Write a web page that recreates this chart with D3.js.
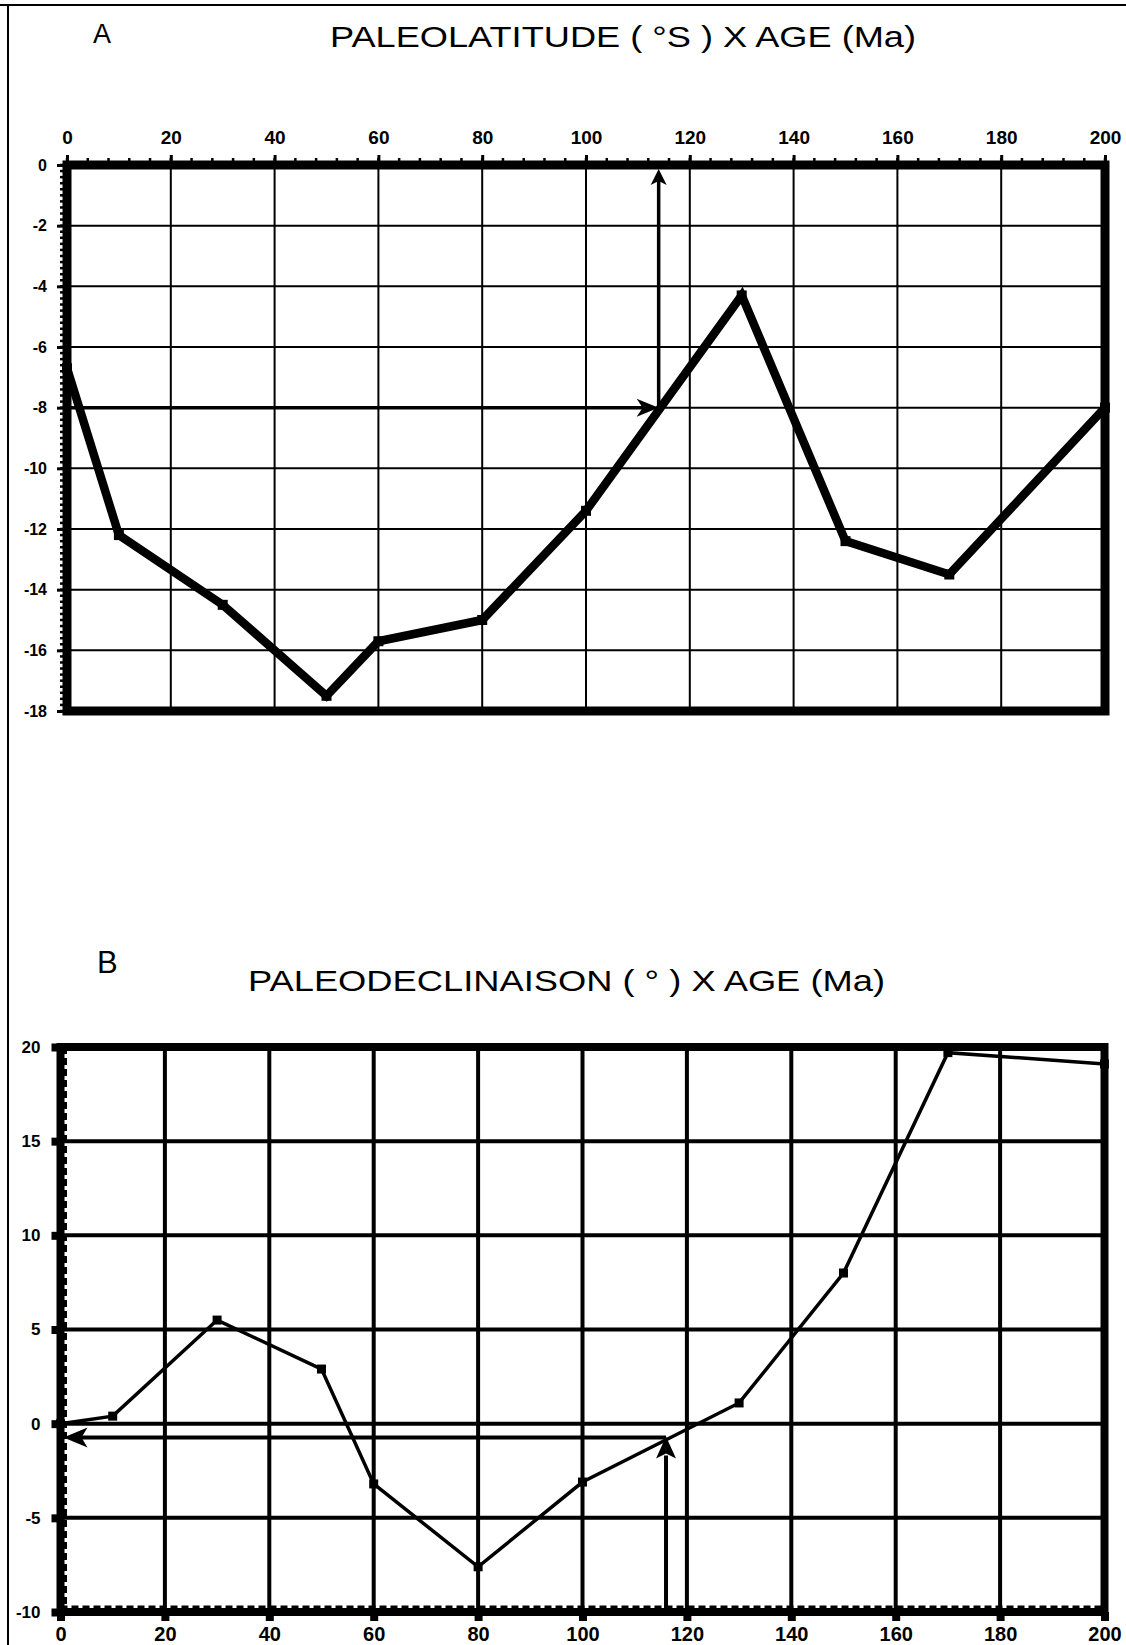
<!DOCTYPE html>
<html>
<head>
<meta charset="utf-8">
<script src="https://cdn.jsdelivr.net/npm/d3@7"></script>
<style>
  html, body { margin: 0; padding: 0; background: #fff; }
  svg { display: block; }
  .tick text { font-family: "Liberation Sans", Arial, sans-serif; font-weight: bold; fill: #000; }
</style>
</head>
<body>
<svg id="fig" width="1126" height="1645"></svg>
<script>
// Paleomagnetic curves: paleolatitude (A) and paleodeclination (B) against age in Ma
const ages = [0, 10, 30, 50, 60, 80, 100, 130, 150, 170, 200];
const paleolatitude = [-6.7, -12.2, -14.5, -17.5, -15.7, -15.0, -11.4, -4.3, -12.4, -13.5, -8.0];
const paleodeclination = [0.0, 0.4, 5.5, 2.9, -3.2, -7.6, -3.1, 1.1, 8.0, 19.7, 19.1];

const ageTicks = [0, 20, 40, 60, 80, 100, 120, 140, 160, 180, 200];
const latTicks = [0, -2, -4, -6, -8, -10, -12, -14, -16, -18];
const decTicks = [20, 15, 10, 5, 0, -5, -10];

// reading guides (age, value) drawn as arrows
const guideA = [114, -8];
const guideB = [116, -0.74];

const svg = d3.select("#fig");
const FONT = '"Liberation Sans", Arial, sans-serif';
const plain = d => String(d);   // keeps the ASCII hyphen for negative labels

// outer frame of the figure
svg.append("line").attr("x1", 0).attr("x2", 1126).attr("y1", 5).attr("y2", 5)
  .attr("stroke", "#000").attr("stroke-width", 2);
svg.append("line").attr("x1", 8).attr("x2", 8).attr("y1", 5).attr("y2", 1645)
  .attr("stroke", "#000").attr("stroke-width", 2);

// concave arrowhead pointing along angle (degrees) with its tip at (x, y)
function arrowHead(g, x, y, angle, L, W, N) {
  g.append("path")
    .attr("d", `M0,0 L${-L},${-W} L${-L + N},0 L${-L},${W} Z`)
    .attr("transform", `translate(${x},${y}) rotate(${angle})`)
    .attr("fill", "#000");
}

function title(letter, lx, lsize, text, tx, tlen, baseline, lbase) {
  svg.append("text").attr("x", lx).attr("y", lbase)
    .attr("font-family", FONT).attr("font-size", lsize).text(letter);
  svg.append("text").attr("x", tx).attr("y", baseline)
    .attr("font-family", FONT).attr("font-size", 30)
    .attr("textLength", tlen).attr("lengthAdjust", "spacingAndGlyphs")
    .text(text);
}

/* ---------------- Panel A : paleolatitude ---------------- */
title("A", 93, 27, "PALEOLATITUDE ( °S ) X AGE (Ma)", 330, 586, 47, 43);

const xA = d3.scaleLinear().domain([0, 200]).range([67, 1105]);
const yA = d3.scaleLinear().domain([0, -18]).range([165, 711]);
const gA = svg.append("g");

// grid
gA.append("g").selectAll("line").data(ageTicks).join("line")
  .attr("x1", d => xA(d)).attr("x2", d => xA(d))
  .attr("y1", yA(0)).attr("y2", yA(-18))
  .attr("stroke", "#000").attr("stroke-width", 2);
gA.append("g").selectAll("line").data(latTicks).join("line")
  .attr("x1", xA(0)).attr("x2", xA(200))
  .attr("y1", d => yA(d)).attr("y2", d => yA(d))
  .attr("stroke", "#000").attr("stroke-width", 2);

// minor ticks
gA.append("g").selectAll("line").data(d3.range(0, 201, 4)).join("line")
  .attr("x1", d => xA(d)).attr("x2", d => xA(d))
  .attr("y1", yA(0) - 7).attr("y2", yA(0))
  .attr("stroke", "#000").attr("stroke-width", 2.5);
gA.append("g").selectAll("line").data(d3.range(0, -18.01, -0.2)).join("line")
  .attr("x1", xA(0) - 7).attr("x2", xA(0))
  .attr("y1", d => yA(d)).attr("y2", d => yA(d))
  .attr("stroke", "#000").attr("stroke-width", 2.5);

// axes
const axTopA = gA.append("g").attr("transform", `translate(0,${yA(0)})`)
  .call(d3.axisTop(xA).tickValues(ageTicks).tickSize(10).tickPadding(11).tickFormat(plain));
axTopA.selectAll("text").attr("font-size", 19);
axTopA.select(".domain").remove();
axTopA.selectAll(".tick line").attr("stroke-width", 3);

const axLeftA = gA.append("g").attr("transform", `translate(${xA(0)},0)`)
  .call(d3.axisLeft(yA).tickValues(latTicks).tickSize(10).tickPadding(10).tickFormat(plain));
axLeftA.selectAll("text").attr("font-size", 16);
axLeftA.select(".domain").remove();
axLeftA.selectAll(".tick line").attr("stroke-width", 3);

// heavy frame
gA.append("rect").attr("x", xA(0)).attr("y", yA(0))
  .attr("width", xA(200) - xA(0)).attr("height", yA(-18) - yA(0))
  .attr("fill", "none").attr("stroke", "#000").attr("stroke-width", 9);

// guide arrows
gA.append("line").attr("x1", xA(0)).attr("x2", xA(guideA[0]) - 16)
  .attr("y1", yA(guideA[1])).attr("y2", yA(guideA[1]))
  .attr("stroke", "#000").attr("stroke-width", 3.5);
arrowHead(gA, xA(guideA[0]), yA(guideA[1]), 0, 22, 9, 6);
gA.append("line").attr("x1", xA(guideA[0])).attr("x2", xA(guideA[0]))
  .attr("y1", yA(guideA[1])).attr("y2", yA(0) + 14)
  .attr("stroke", "#000").attr("stroke-width", 3.5);
arrowHead(gA, xA(guideA[0]), yA(0) + 4, -90, 16, 8, 4);

// curve
const dataA = ages.map((a, i) => [a, paleolatitude[i]]);
gA.append("path").datum(dataA)
  .attr("d", d3.line().x(d => xA(d[0])).y(d => yA(d[1])))
  .attr("fill", "none").attr("stroke", "#000").attr("stroke-width", 8.5)
  .attr("stroke-linejoin", "miter");
gA.append("g").selectAll("rect").data(dataA).join("rect")
  .attr("x", d => xA(d[0]) - 5).attr("y", d => yA(d[1]) - 5)
  .attr("width", 10).attr("height", 10).attr("fill", "#000");

/* ---------------- Panel B : paleodeclination ---------------- */
title("B", 97, 31, "PALEODECLINAISON ( ° ) X AGE (Ma)", 248, 637, 991, 973);

const xB = d3.scaleLinear().domain([0, 200]).range([60.5, 1104.5]);
const yB = d3.scaleLinear().domain([-10, 20]).range([1612, 1047]);
const gB = svg.append("g");

// grid
gB.append("g").selectAll("line").data(ageTicks).join("line")
  .attr("x1", d => xB(d)).attr("x2", d => xB(d))
  .attr("y1", yB(20)).attr("y2", yB(-10))
  .attr("stroke", "#000").attr("stroke-width", 4);
gB.append("g").selectAll("line").data(decTicks).join("line")
  .attr("x1", xB(0)).attr("x2", xB(200))
  .attr("y1", d => yB(d)).attr("y2", d => yB(d))
  .attr("stroke", "#000").attr("stroke-width", 4);

// axes
const axBotB = gB.append("g").attr("transform", `translate(0,${yB(-10)})`)
  .call(d3.axisBottom(xB).tickValues(ageTicks).tickSize(9).tickPadding(6).tickFormat(plain));
axBotB.selectAll("text").attr("font-size", 20);
axBotB.select(".domain").remove();
axBotB.selectAll(".tick line").attr("stroke-width", 8);

const axLeftB = gB.append("g").attr("transform", `translate(${xB(0)},0)`)
  .call(d3.axisLeft(yB).tickValues(decTicks).tickSize(9).tickPadding(11).tickFormat(plain));
axLeftB.selectAll("text").attr("font-size", 17);
axLeftB.select(".domain").remove();
axLeftB.selectAll(".tick line").attr("stroke-width", 8);

// heavy frame with dashed inner edges
gB.append("rect").attr("x", xB(0)).attr("y", yB(20))
  .attr("width", xB(200) - xB(0)).attr("height", yB(-10) - yB(20))
  .attr("fill", "none").attr("stroke", "#000").attr("stroke-width", 8);
gB.append("line").attr("x1", xB(0)).attr("x2", xB(200))
  .attr("y1", yB(-10) - 5).attr("y2", yB(-10) - 5)
  .attr("stroke", "#000").attr("stroke-width", 3).attr("stroke-dasharray", "7,4");
gB.append("line").attr("x1", xB(0) + 5).attr("x2", xB(0) + 5)
  .attr("y1", yB(20)).attr("y2", yB(-10))
  .attr("stroke", "#000").attr("stroke-width", 3).attr("stroke-dasharray", "7,4");

// guide arrows
gB.append("line").attr("x1", xB(guideB[0])).attr("x2", xB(0) + 20)
  .attr("y1", yB(guideB[1])).attr("y2", yB(guideB[1]))
  .attr("stroke", "#000").attr("stroke-width", 4);
arrowHead(gB, xB(0) + 3, yB(guideB[1]), 180, 24, 10, 6);
gB.append("line").attr("x1", xB(guideB[0])).attr("x2", xB(guideB[0]))
  .attr("y1", yB(-10)).attr("y2", yB(guideB[1]) + 18)
  .attr("stroke", "#000").attr("stroke-width", 4);
arrowHead(gB, xB(guideB[0]), yB(guideB[1]) - 1, -90, 22, 10, 5);

// curve
const dataB = ages.map((a, i) => [a, paleodeclination[i]]);
gB.append("path").datum(dataB)
  .attr("d", d3.line().x(d => xB(d[0])).y(d => yB(d[1])))
  .attr("fill", "none").attr("stroke", "#000").attr("stroke-width", 3.5);
gB.append("g").selectAll("rect").data(dataB).join("rect")
  .attr("x", d => xB(d[0]) - 4.5).attr("y", d => yB(d[1]) - 4.5)
  .attr("width", 9).attr("height", 9).attr("fill", "#000");
</script>
</body>
</html>
